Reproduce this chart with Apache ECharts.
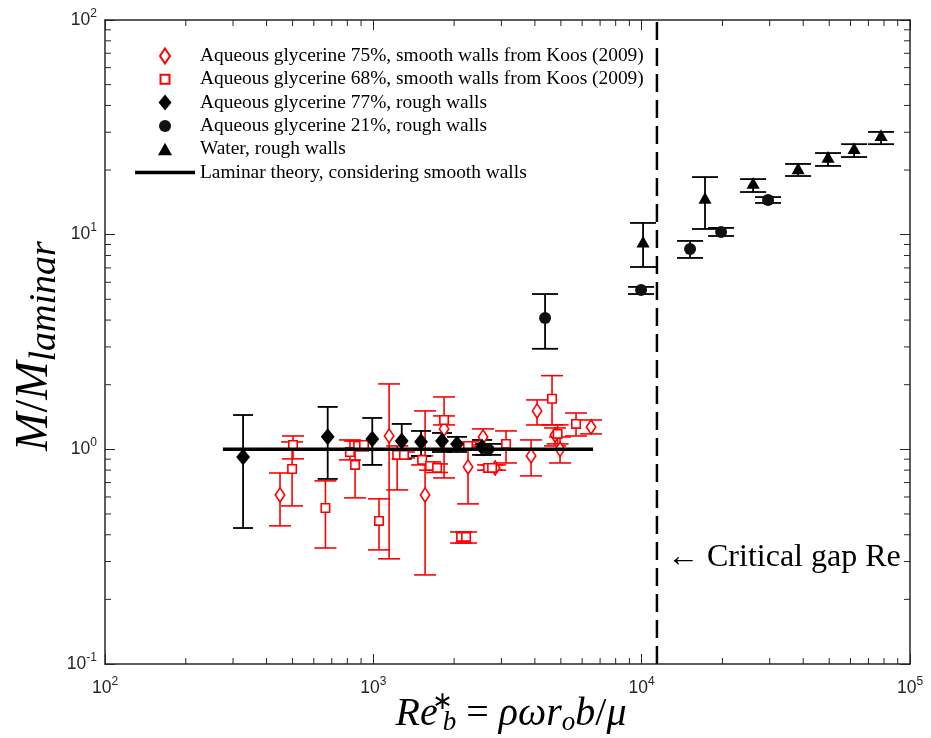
<!DOCTYPE html>
<html>
<head>
<meta charset="utf-8">
<script src="https://cdn.jsdelivr.net/npm/echarts@6/dist/echarts.min.js"></script>
<style>
  html, body { margin: 0; padding: 0; background: #fff; }
  #chart { width: 931px; height: 738px; }
</style>
</head>
<body>
<div id="chart"></div>
<script>
// Each row: [Re_b*, M/M_laminar, lower bound, upper bound]
const glycerine75Smooth = [
  [449, 0.613, 0.44, 0.776],
  [1145, 1.155, 0.309, 2.017],
  [1559, 0.613, 0.26, 1.51],
  [1835, 1.245, 0.736, 1.754],
  [2254, 0.828, 0.557, 1.048],
  [2564, 1.142, 1.026, 1.245],
  [2845, 0.819, 0.80, 0.846],
  [3871, 0.932, 0.752, 1.106],
  [4075, 1.51, 1.299, 1.699],
  [4755, 1.167, 1.037, 1.258],
  [4964, 1.0, 0.864, 1.142],
  [6477, 1.271, 1.18, 1.37]
];
const glycerine68Smooth = [
  [502, 1.048, 0.903, 1.154],
  [498, 0.81, 0.545, 1.083],
  [663, 0.533, 0.347, 0.713],
  [818, 0.972, 0.893, 1.106],
  [855, 0.846, 0.594, 1.094],
  [878, 1.037, 0.983, 1.094],
  [923, 1.048, 1.0, 1.094],
  [1050, 0.464, 0.34, 0.588],
  [1227, 0.942, 0.647, 1.037],
  [1301, 0.942, 0.912, 0.972],
  [1520, 0.893, 0.846, 0.932],
  [1627, 0.837, 0.80, 0.874],
  [1728, 0.82, 0.78, 0.855],
  [1835, 1.37, 1.299, 1.431],
  [2123, 0.391, 0.366, 0.412],
  [2216, 0.391, 0.366, 0.412],
  [2254, 1.037, 0.994, 1.083],
  [2677, 0.819, 0.80, 0.846],
  [2770, 0.819, 0.80, 0.846],
  [3123, 1.06, 0.864, 1.218],
  [4634, 1.72, 1.3, 2.204],
  [4860, 1.18, 1.06, 1.3],
  [5694, 1.313, 1.154, 1.477]
];
const glycerine77Rough = [
  [327, 0.922, 0.43, 1.445],
  [676, 1.143, 0.728, 1.576],
  [991, 1.118, 0.846, 1.40],
  [1276, 1.094, 0.903, 1.313],
  [1506, 1.086, 0.931, 1.218],
  [1803, 1.094, 0.972, 1.192],
  [2051, 1.059, 0.972, 1.143],
  [2542, 1.026, 0.942, 1.106]
];
const glycerine21Rough = [
  [2677, 1.0, 0.942, 1.06],
  [4365, 4.09, 2.94, 5.29],
  [9950, 5.53, 5.29, 5.71],
  [15150, 8.58, 7.79, 9.35],
  [19770, 10.3, 9.86, 10.75],
  [29580, 14.5, 14.05, 14.97]
];
const waterRough = [
  [10120, 9.25, 7.07, 11.34],
  [17220, 14.8, 10.63, 18.55],
  [26020, 17.4, 15.8, 18.15],
  [38280, 20.3, 18.76, 21.35],
  [49500, 23.0, 20.9, 24.0],
  [61900, 25.2, 23.0, 26.4],
  [78000, 29.0, 26.4, 30.1]
];
// Laminar prediction (M/M_laminar = 1) over the tested range
const laminarTheory = [[275, 1], [6590, 1]];
// Critical gap Reynolds number
const criticalRe = 11400;
const criticalLine = [[criticalRe, 0.1], [criticalRe, 100]];

// Axis ranges and minor tick positions
const xRange = [100, 100000];
const yRange = [0.1, 100];
const xMinorTicks = [200, 300, 400, 500, 600, 700, 800, 900,
  2000, 3000, 4000, 5000, 6000, 7000, 8000, 9000,
  20000, 30000, 40000, 50000, 60000, 70000, 80000, 90000];
const yMinorTicks = [0.2, 0.3, 0.4, 0.5, 0.6, 0.7, 0.8, 0.9,
  2, 3, 4, 5, 6, 7, 8, 9,
  20, 30, 40, 50, 60, 70, 80, 90];

const names = {
  g75: 'Aqueous glycerine 75%, smooth walls from Koos (2009)',
  g68: 'Aqueous glycerine 68%, smooth walls from Koos (2009)',
  g77: 'Aqueous glycerine 77%, rough walls',
  g21: 'Aqueous glycerine 21%, rough walls',
  water: 'Water, rough walls',
  laminar: 'Laminar theory, considering smooth walls'
};

const RED = '#ff0000';
const INK = '#000000';
const AXIS = '#262626';

// Marker outlines; the leading moves pin every legend icon to a 16x16 box
const ICON = {
  redDiamond: 'path://M0,0M16,16M8,0.5L13,8L8,15.5L3,8Z',
  redSquare: 'path://M0,0M16,16M3.5,3.5L12.5,3.5L12.5,12.5L3.5,12.5Z',
  blackDiamond: 'path://M0,0M16,16M8,0L14.5,8L8,16L1.5,8Z',
  blackCircle: 'path://M0,0M16,16M2,8A6,6,0,1,1,14,8A6,6,0,1,1,2,8Z',
  triangle: 'path://M0,0M16,16M8,1.5L15,14L1,14Z',
  line: 'path://M0,0L60,0L60,3.5L0,3.5Z'
};

function errorBars(rows, color, capHalf, width) {
  return {
    type: 'custom',
    silent: true,
    data: rows.map(r => [r[0], r[2], r[3]]),
    encode: { x: 0, y: [1, 2] },
    renderItem: function (params, api) {
      const x = api.value(0);
      const lo = api.coord([x, api.value(1)]);
      const hi = api.coord([x, api.value(2)]);
      const style = { stroke: color, lineWidth: width, fill: null };
      return {
        type: 'group',
        children: [
          { type: 'line', shape: { x1: lo[0], y1: lo[1], x2: hi[0], y2: hi[1] }, style: style },
          { type: 'line', shape: { x1: lo[0] - capHalf, y1: lo[1], x2: lo[0] + capHalf, y2: lo[1] }, style: style },
          { type: 'line', shape: { x1: hi[0] - capHalf, y1: hi[1], x2: hi[0] + capHalf, y2: hi[1] }, style: style }
        ]
      };
    }
  };
}

function markers(name, rows, symbol, size, style) {
  return {
    type: 'scatter',
    name: name,
    data: rows.map(r => [r[0], r[1]]),
    symbol: symbol,
    symbolSize: size,
    itemStyle: Object.assign({ opacity: 1 }, style),
    emphasis: { disabled: true }
  };
}

// Minor ticks on log axes, drawn inward on both sides of the box
function minorTicks(values, dir, len) {
  return {
    type: 'custom',
    silent: true,
    data: values.map(v => dir === 'x' ? [v, 1] : [1000, v]),
    encode: { x: 0, y: 1 },
    renderItem: function (params, api) {
      const cs = params.coordSys;
      const p = api.coord([api.value(0), api.value(1)]);
      const style = { stroke: AXIS, lineWidth: 1 };
      if (dir === 'x') {
        return { type: 'group', children: [
          { type: 'line', shape: { x1: p[0], y1: cs.y + cs.height, x2: p[0], y2: cs.y + cs.height - len }, style: style },
          { type: 'line', shape: { x1: p[0], y1: cs.y, x2: p[0], y2: cs.y + len }, style: style }
        ] };
      }
      return { type: 'group', children: [
        { type: 'line', shape: { x1: cs.x, y1: p[1], x2: cs.x + len, y2: p[1] }, style: style },
        { type: 'line', shape: { x1: cs.x + cs.width, y1: p[1], x2: cs.x + cs.width - len, y2: p[1] }, style: style }
      ] };
    }
  };
}

function powerLabel(value) {
  const e = Math.round(Math.log10(value));
  return '10{sup|' + e + '}';
}

const tickFont = {
  color: AXIS,
  fontFamily: 'Liberation Sans',
  fontSize: 17.5,
  rich: {
    sup: { fontFamily: 'Liberation Sans', fontSize: 12, color: AXIS, padding: [0, 0, 13, 0] }
  }
};

const axisCommon = {
  type: 'log',
  logBase: 10,
  splitLine: { show: false },
  axisLine: { show: true, lineStyle: { color: AXIS, width: 1.5 } },
  axisTick: { show: true, inside: true, length: 10, lineStyle: { color: AXIS, width: 1 } }
};

const chart = echarts.init(document.getElementById('chart'), null, { renderer: 'canvas' });

chart.setOption({
  backgroundColor: '#ffffff',
  animation: false,
  grid: { left: 105, right: 21, top: 20, bottom: 74, containLabel: false },
  xAxis: [
    Object.assign({}, axisCommon, {
      position: 'bottom', min: xRange[0], max: xRange[1],
      axisLabel: Object.assign({ margin: 12, formatter: powerLabel, showMinLabel: true, showMaxLabel: true }, tickFont)
    }),
    Object.assign({}, axisCommon, {
      position: 'top', min: xRange[0], max: xRange[1], axisLabel: { show: false }
    })
  ],
  yAxis: [
    Object.assign({}, axisCommon, {
      position: 'left', min: yRange[0], max: yRange[1],
      axisLabel: Object.assign({ margin: 8, formatter: powerLabel, showMinLabel: true, showMaxLabel: true }, tickFont)
    }),
    Object.assign({}, axisCommon, {
      position: 'right', min: yRange[0], max: yRange[1], axisLabel: { show: false }
    })
  ],
  legend: {
    orient: 'vertical',
    left: 135,
    top: 46.5,
    padding: 0,
    itemWidth: 60,
    itemHeight: 16,
    itemGap: 4.3,
    itemTextGap: 2,
    selectedMode: false,
    textStyle: { fontFamily: 'Liberation Serif', fontSize: 19.4, lineHeight: 19, color: '#000' },
    data: [
      { name: names.g75, icon: ICON.redDiamond },
      { name: names.g68, icon: ICON.redSquare },
      { name: names.g77, icon: ICON.blackDiamond },
      { name: names.g21, icon: ICON.blackCircle },
      { name: names.water, icon: ICON.triangle },
      { name: names.laminar, icon: ICON.line, itemStyle: { color: INK, borderWidth: 0 } }
    ]
  },
  graphic: [
    {
      type: 'text',
      x: 35, y: 346,
      rotation: Math.PI / 2,
      style: {
        text: '{i|M}{n|/}{i|M}{s|laminar}',
        align: 'center', verticalAlign: 'middle',
        rich: {
          i: { fontFamily: 'Liberation Serif', fontStyle: 'italic', fontSize: 46, fill: '#000' },
          n: { fontFamily: 'Liberation Serif', fontSize: 46, fill: '#000' },
          s: { fontFamily: 'Liberation Serif', fontStyle: 'italic', fontSize: 38, fill: '#000', padding: [20, 0, 0, 0] }
        }
      }
    },
    {
      type: 'text',
      x: 511, y: 714,
      style: {
        text: '{i|Re}{st|∗}{s|b}{n| = }{i|ρωr}{s|o}{i|b}{n|/}{i|μ}',
        align: 'center', verticalAlign: 'middle',
        rich: {
          i: { fontFamily: 'Liberation Serif', fontStyle: 'italic', fontSize: 40, fill: '#000' },
          n: { fontFamily: 'Liberation Serif', fontSize: 40, fill: '#000' },
          st: { fontFamily: 'Liberation Serif', fontSize: 25, fill: '#000', width: 1, padding: [0, 0, 23, 4] },
          s: { fontFamily: 'Liberation Serif', fontStyle: 'italic', fontSize: 27, fill: '#000', padding: [18, 0, 0, 0] }
        }
      }
    },
    {
      type: 'text',
      x: 667, y: 558,
      style: {
        text: '← Critical gap Re',
        fontFamily: 'Liberation Serif', fontSize: 32, fill: '#000',
        align: 'left', verticalAlign: 'middle'
      }
    }
  ],
  series: [
    minorTicks(xMinorTicks, 'x', 6),
    minorTicks(yMinorTicks, 'y', 6),
    {
      type: 'line',
      silent: true,
      data: criticalLine,
      symbol: 'none',
      lineStyle: { color: INK, width: 2.5, type: [18, 8] }
    },
    errorBars(glycerine75Smooth, RED, 11, 1.6),
    errorBars(glycerine68Smooth, RED, 11, 1.6),
    markers(names.g75, glycerine75Smooth, ICON.redDiamond, 15,
      { color: '#ffffff', borderColor: RED, borderWidth: 1.6 }),
    markers(names.g68, glycerine68Smooth, ICON.redSquare, 15,
      { color: '#ffffff', borderColor: RED, borderWidth: 1.6 }),
    {
      type: 'line',
      name: names.laminar,
      data: laminarTheory,
      symbol: 'none',
      silent: true,
      lineStyle: { color: INK, width: 3.5 },
      itemStyle: { color: INK }
    },
    errorBars(glycerine77Rough, INK, 10, 1.8),
    errorBars(glycerine21Rough, INK, 13, 1.8),
    errorBars(waterRough, INK, 13, 1.8),
    markers(names.g77, glycerine77Rough, ICON.blackDiamond, 17, { color: INK }),
    markers(names.g21, glycerine21Rough, ICON.blackCircle, 16, { color: '#111111' }),
    markers(names.water, waterRough, ICON.triangle, 15, { color: INK })
  ]
});
</script>
</body>
</html>
